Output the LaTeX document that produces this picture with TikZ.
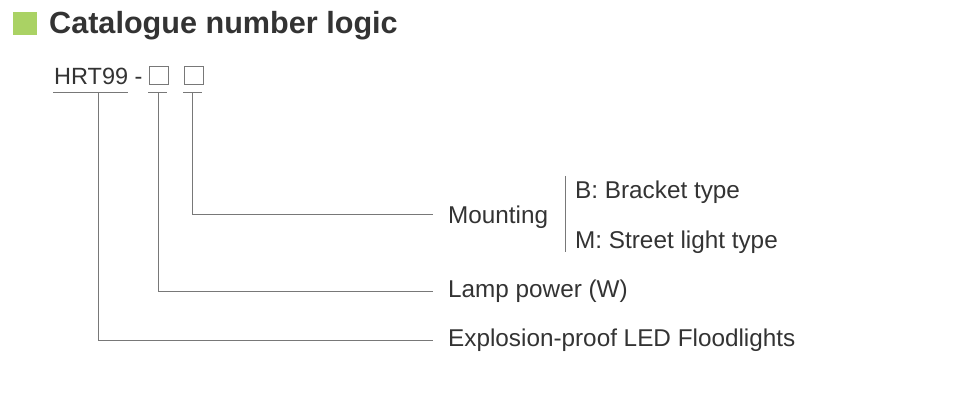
\documentclass[tikz,border=0pt]{standalone}
\usepackage{fontspec}
\setmainfont{Liberation Sans}
\definecolor{txt}{RGB}{51,51,51}
\definecolor{ln}{RGB}{120,120,120}
\definecolor{titlegreen}{RGB}{170,210,100}
\begin{document}
\begin{tikzpicture}[x=1pt,y=-1pt,
  lbl/.style={anchor=base west,inner sep=0pt,text=txt,font=\fontsize{24.3}{27}\selectfont},
  codelbl/.style={anchor=base west,inner sep=0pt,text=txt,font=\fontsize{23.5}{26}\selectfont},
  conn/.style={draw=ln,line width=1pt},
  slot/.style={draw=ln,line width=0.9pt,minimum width=19pt,minimum height=18pt,inner sep=0pt,anchor=south west}]
\useasboundingbox (0,0) rectangle (956,409);
% title
\fill[titlegreen] (13,12) rectangle (37,35);
\node[anchor=base west,inner sep=0pt,text=txt,font=\fontsize{30.6}{34}\selectfont\bfseries] (title) at (49,34) {Catalogue number logic};
% code
\node[codelbl] (code) at (54,85) {HRT99 -};
\node[slot] (s1) at (148.5,85) {};
\node[slot] (s2) at (183.5,85) {};
% underlines
\draw[conn] (53,93) -- (128,93);
\draw[conn] (148,93) -- (167,93);
\draw[conn] (183,93) -- (202,93);
\coordinate (c1) at (98,93);
\coordinate (c2) at (158,93);
\coordinate (c3) at (192,93);
% labels
\node[lbl] (mount) at (448,223) {Mounting};
\node[lbl] (bt) at (575,198) {B: Bracket type};
\node[lbl] (mt) at (575,248) {M: Street light type};
\node[lbl] (lamp) at (448,297) {Lamp power (W)};
\node[lbl] (expl) at (448,346) {Explosion-proof LED Floodlights};
\coordinate (e3) at (433,214);
\coordinate (e2) at (433,291.5);
\coordinate (e1) at (433,340);
\draw[conn] (c3) |- (e3);
\draw[conn] (c2) |- (e2);
\draw[conn] (c1) |- (e1);
% bracket bar
\coordinate (bartop) at (565,176);
\coordinate (barbot) at (565,252);
\draw[conn] (bartop) -- (barbot);
\end{tikzpicture}
\end{document}
